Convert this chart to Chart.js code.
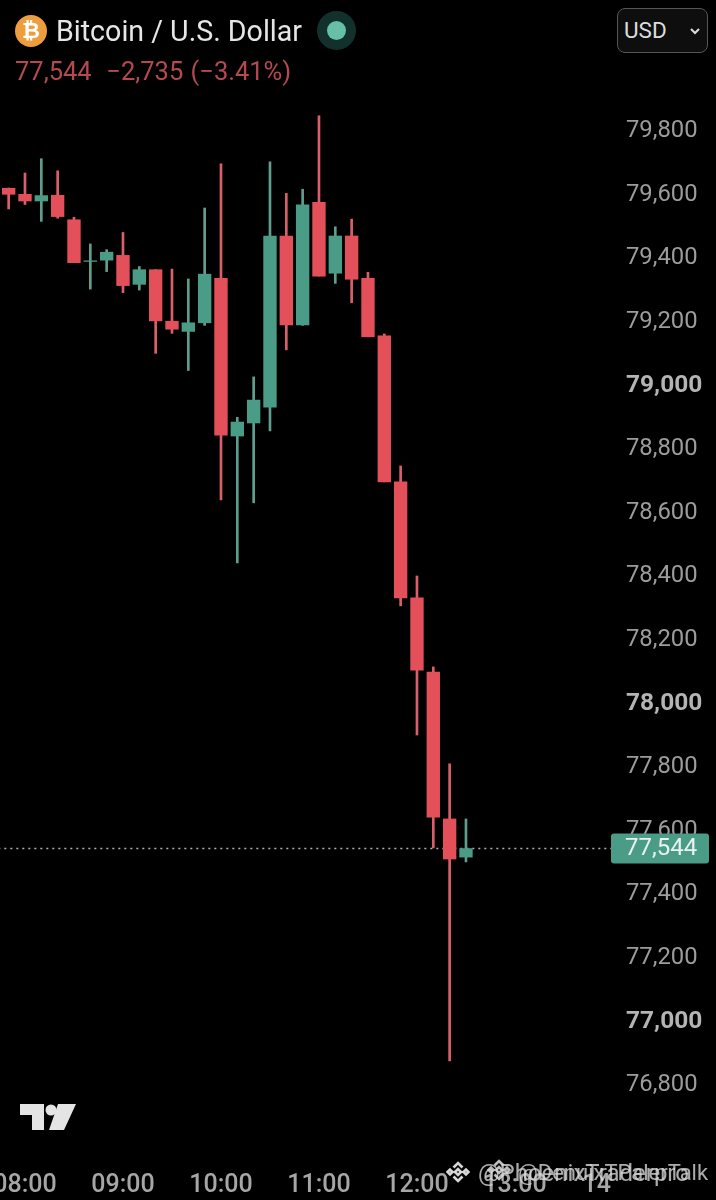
<!DOCTYPE html>
<html>
<head>
<meta charset="utf-8">
<title>Bitcoin / U.S. Dollar</title>
<script src="https://cdn.jsdelivr.net/npm/chart.js@4/dist/chart.umd.min.js"></script>
<style>
  html, body { margin: 0; padding: 0; background: #000; }
  #wrap { position: relative; width: 716px; height: 1200px; overflow: hidden; font-family: Roboto, sans-serif; }
  #wrap canvas { position: absolute; left: 0; top: 0; }
  .abs { position: absolute; white-space: nowrap; }
  #coin { left: 15px; top: 15px; width: 32px; height: 32px; border-radius: 50%; background: #EE9E3C; color: #fff;
          font-size: 22px; font-weight: 700; line-height: 32px; text-align: center; }
  #title { left: 56px; top: 13px; font-size: 28.6px; line-height: 36px; color: #E6E6E6; }
  #sub { left: 15px; top: 57px; font-size: 25.5px; line-height: 28px; color: #B44A50; word-spacing: 1px; }
  #halo { left: 317px; top: 11px; width: 39px; height: 39px; border-radius: 50%; background: #12302C; }
  #dot { left: 327px; top: 21px; width: 19px; height: 19px; border-radius: 50%; background: #67BFA8; }
  #usd { left: 617px; top: 8px; width: 89px; height: 43px; border: 1.5px solid #555; border-radius: 8px; background: #0E0E0E;
         color: #DDD; font-size: 22.5px; line-height: 43px; }
  #usd span { margin-left: 6px; }
  #usd svg { position: absolute; left: 71px; top: 18px; }
  #tv { left: 20px; top: 1103px; }
  .wm { top: 1158px; line-height: 30px; color: rgba(215,215,215,.8); }
  .dia { top: 1160px; }
</style>
</head>
<body>
<div id="wrap">
  <canvas id="chart" width="716" height="1200"></canvas>
  <div class="abs" id="coin">₿</div>
  <div class="abs" id="title">Bitcoin / U.S. Dollar</div>
  <div class="abs" id="sub">77,544 &nbsp;−2,735 (−3.41%)</div>
  <div class="abs" id="halo"></div>
  <div class="abs" id="dot"></div>
  <div class="abs" id="usd"><span>USD</span>
    <svg width="12" height="8" viewBox="0 0 12 8"><path d="M2 2 L6 6 L10 2" fill="none" stroke="#DDD" stroke-width="2"/></svg>
  </div>
  <svg class="abs" id="tv" width="56" height="28" viewBox="0 0 56 28">
    <path d="M0 1 H24 V27 H12 V12 H0 Z M38 1 H56 L44 27 H29 Z" fill="#E4E4E4"/>
    <circle cx="31" cy="7" r="5.5" fill="#E4E4E4"/>
  </svg>
  <svg class="abs dia" style="left:446px" width="24" height="24" viewBox="0 0 24 24" fill="none" stroke="#D7D7D7" stroke-width="2.6">
    <path d="M7.5 7.5 L12 3 L16.5 7.5 M7.5 16.5 L12 21 L16.5 16.5 M1.5 12 L4 9.5 L6.5 12 L4 14.5 Z M17.5 12 L20 9.5 L22.5 12 L20 14.5 Z M9 12 L12 9 L15 12 L12 15 Z"/>
  </svg>
  <svg class="abs dia" style="left:487px;top:1158px" width="24" height="24" viewBox="0 0 24 24" fill="none" stroke="#BDBDBD" stroke-width="2.6">
    <path d="M7.5 7.5 L12 3 L16.5 7.5 M7.5 16.5 L12 21 L16.5 16.5 M1.5 12 L4 9.5 L6.5 12 L4 14.5 Z M17.5 12 L20 9.5 L22.5 12 L20 14.5 Z M9 12 L12 9 L15 12 L12 15 Z"/>
  </svg>
  <div class="abs wm" style="left:478px;font-size:24px">@PhoenixTraderpro</div>
  <div class="abs wm" style="left:518px;font-size:22px">@DenuixTPalerTalk</div>
</div>
<script>
// candle index, 10 minute bars, first bar is 07:50
const opens  = [79620,79601,79580,79598,79521,79390,79394,79409,79318,79364,79202,79170,79197,79337,78841,78882,78932,79470,79190,79576,79353,79470,79337,79156,78697,78332,78099,77637,77517];
const closes = [79601,79580,79597,79531,79386,79392,79419,79314,79364,79203,79177,79197,79350,78844,78885,78954,79470,79190,79568,79344,79470,79334,79153,78697,78332,78105,77643,77511,77544];
const highs  = [79621,79668,79713,79675,79529,79445,79427,79481,79374,79364,79366,79335,79558,79697,78900,79027,79703,79604,79617,79848,79499,79523,79356,79162,78747,78401,78115,77810,77637];
const lows   = [79555,79569,79516,79526,79386,79303,79358,79292,79300,79101,79164,79047,79189,78640,78442,78631,78857,79112,79189,79344,79321,79260,79153,78697,78307,77901,77546,76876,77502];

const priceTicks = [79800,79600,79400,79200,79000,78800,78600,78400,78200,78000,77800,77600,77400,77200,77000,76800];
const timeTickAt = [1,7,13,19,25,31,36];
const timeTickLabels = ['08:00','09:00','10:00','11:00','12:00','13:00','14'];
const lastPrice = 77544;

const RED = '#E4505A', GREEN = '#4A9C86';
const RED_WICK = '#D9606A', GREEN_WICK = '#5F9E8E';

const isUp = opens.map((o, i) => closes[i] >= o);
const wickData = highs.map((h, i) => ({x: i, y: [lows[i], h]}));
const bodyData = opens.map((o, i) => ({x: i, y: [o, closes[i]]}));
const isRound = c => !!c.tick && c.tick.value % 1000 === 0;

// price tag on the axis, drawn over the tick labels
const priceTag = {
    id: 'priceTag',
    afterDraw(chart) {
        const {ctx, scales: {y}} = chart;
        const py = y.getPixelForValue(lastPrice);
        ctx.save();
        ctx.fillStyle = '#4A9C86';
        ctx.beginPath();
        ctx.roundRect(611, py - 15, 98, 30, 3);
        ctx.fill();
        ctx.fillStyle = '#E8F2EF';
        ctx.font = '24px Roboto';
        ctx.textBaseline = 'middle';
        ctx.fillText('77,544', 625, py);
        ctx.restore();
    }
};

new Chart(document.getElementById('chart'), {
    type: 'bar',
    data: {
        datasets: [
            {
                type: 'line',
                data: [{x: -1, y: lastPrice}, {x: 37, y: lastPrice}],
                borderColor: '#B0B0B0',
                borderWidth: 1.5,
                borderDash: [2, 4],
                pointRadius: 0,
                order: 3
            },
            {
                data: wickData,
                backgroundColor: isUp.map(u => (u ? GREEN_WICK : RED_WICK)),
                barThickness: 2,
                grouped: false,
                order: 2
            },
            {
                data: bodyData,
                backgroundColor: isUp.map(u => (u ? GREEN : RED)),
                barThickness: 12.7,
                grouped: false,
                order: 1
            }
        ]
    },
    options: {
        responsive: false,
        animation: false,
        devicePixelRatio: 1,
        plugins: {legend: {display: false}, tooltip: {enabled: false}},
        scales: {
            x: {
                type: 'linear',
                offset: false,
                min: -0.53,
                max: 36.88,
                grid: {display: false},
                border: {display: false},
                afterBuildTicks: s => { s.ticks = timeTickAt.map(v => ({value: v})); },
                afterFit: s => { s.paddingLeft = 0; s.paddingRight = 0; s.height = 70; },
                ticks: {
                    autoSkip: false,
                    maxRotation: 0,
                    padding: 33,
                    color: '#A6A6A6',
                    font: {family: 'Roboto', size: 25, weight: '500'},
                    callback: v => timeTickLabels[timeTickAt.indexOf(v)]
                }
            },
            y: {
                position: 'right',
                min: 76659,
                max: 80212,
                grid: {display: false},
                border: {display: false},
                afterBuildTicks: s => { s.ticks = priceTicks.map(v => ({value: v})); },
                afterFit: s => { s.width = 105; s.paddingTop = 0; s.paddingBottom = 0; },
                ticks: {
                    autoSkip: false,
                    crossAlign: 'near',
                    padding: 7,
                    color: c => (isRound(c) ? '#B4B4B4' : '#9C9C9C'),
                    font: c => ({family: 'Roboto', size: isRound(c) ? 24.5 : 23.8, weight: isRound(c) ? '700' : '400'}),
                    callback: v => v.toLocaleString('en-US')
                }
            }
        }
    },
    plugins: [priceTag]
});
</script>
</body>
</html>
